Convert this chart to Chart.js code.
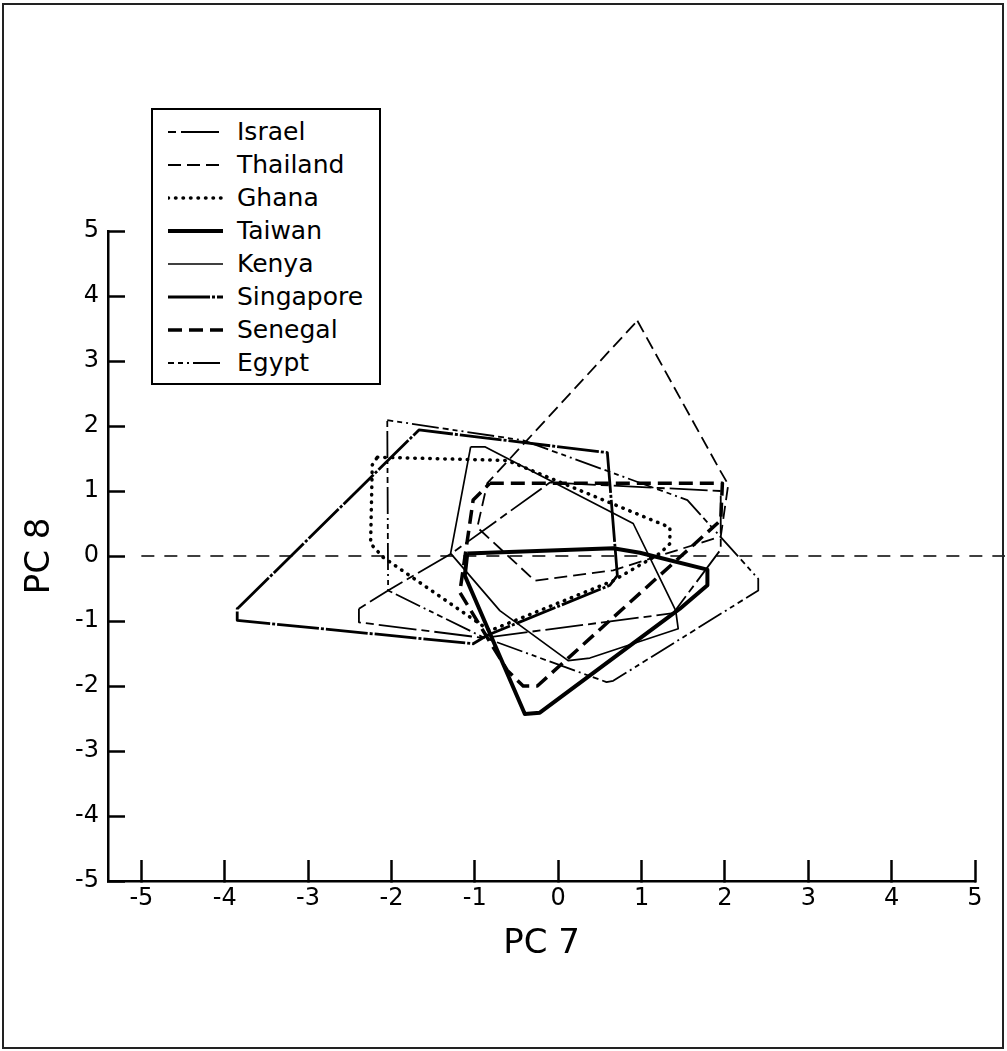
<!DOCTYPE html>
<html>
<head>
<meta charset="utf-8">
<script src="https://cdn.jsdelivr.net/npm/chart.js@4.4.1/dist/chart.umd.min.js"></script>
<style>
  html, body { margin: 0; padding: 0; background: #fff; }
  #wrap { position: relative; width: 1007px; height: 1051px; overflow: hidden; }
  #myChart { position: absolute; left: 0; top: 0; }
  #frame { position: absolute; left: 2px; top: 3px; right: 3px; bottom: 2px; border: 2px solid #222; pointer-events: none; }
  #legend { position: absolute; left: 151px; top: 108px; width: 226px; height: 268px; border: 2.5px solid #000; background: #fff;
            font-family: "DejaVu Sans", sans-serif; font-size: 25px; color: #000; padding-top: 5px; padding-bottom: 0; }
  .row { height: 33px; display: flex; align-items: center; }
  .row svg { margin-left: 15px; margin-right: 14px; flex: none; }
</style>
</head>
<body>
<div id="wrap">
  <canvas id="myChart" width="1007" height="1051"></canvas>
  <div id="legend"></div>
  <div id="frame"></div>
</div>
<script>
// countries in legend order
const countries = ["Israel", "Thailand", "Ghana", "Taiwan", "Kenya", "Singapore", "Senegal", "Egypt"];

// hull vertices (PC 7 = x, PC 8 = y)
const israelPC7 = [-2.39, -2.04, -1.29, -0.10, 1.95, 1.95, 1.38, -0.90, -2.39];
const israelPC8 = [-0.81, -0.53, 0.03, 1.13, 1.00, 0.10, -0.88, -1.26, -1.02];

const thailandPC7 = [0.95, 1.94, 2.04, 1.95, 0.66, -0.28, -0.97, -0.85];
const thailandPC8 = [3.62, 1.32, 1.10, 0.30, -0.22, -0.38, 0.44, 1.12];

const ghanaPC7 = [-2.17, -0.61, 1.34, 1.34, 1.22, 0.66, -0.82, -2.10, -2.25, -2.23];
const ghanaPC8 = [1.52, 1.47, 0.44, 0.19, 0.04, -0.38, -1.15, -0.02, 0.19, 1.40];

const taiwanPC7 = [-1.09, 0.66, 0.98, 1.79, 1.79, 1.46, -0.22, -0.40, -1.12];
const taiwanPC8 = [0.04, 0.12, 0.05, -0.21, -0.45, -0.81, -2.41, -2.43, -0.30];

const kenyaPC7 = [-1.05, -0.88, 0.90, 1.41, 1.44, 0.38, 0.12, -0.70, -1.29];
const kenyaPC8 = [1.68, 1.68, 0.50, -0.84, -1.12, -1.57, -1.61, -0.84, 0.04];

const singaporePC7 = [-3.83, -1.67, 0.59, 0.71, 0.62, -0.85, -1.02, -3.85, -3.85];
const singaporePC8 = [-0.79, 1.94, 1.59, -0.30, -0.45, -1.22, -1.35, -0.99, -0.81];

const senegalPC7 = [-0.82, 1.97, 1.95, -0.25, -0.42, -0.61, -1.18, -1.02];
const senegalPC8 = [1.12, 1.12, 0.55, -2.00, -2.00, -1.76, -0.56, 0.86];

const egyptPC7 = [-2.05, -0.42, 1.55, 2.40, 2.40, 0.66, 0.58, -0.90, -2.04];
const egyptPC8 = [2.09, 1.78, 0.86, -0.35, -0.53, -1.92, -1.94, -1.25, -0.53];

// dashed reference line at PC 8 = 0
const zeroLinePC7 = [-5.0, 5.36];
const zeroLinePC8 = [0, 0];

const tickValues = [-5, -4, -3, -2, -1, 0, 1, 2, 3, 4, 5];

const seriesX = [israelPC7, thailandPC7, ghanaPC7, taiwanPC7, kenyaPC7, singaporePC7, senegalPC7, egyptPC7];
const seriesY = [israelPC8, thailandPC8, ghanaPC8, taiwanPC8, kenyaPC8, singaporePC8, senegalPC8, egyptPC8];

// line look for each country
const lineStyles = [
    { width: 1.8, dash: [8, 5, 38, 5], cap: "butt" },
    { width: 1.8, dash: [13, 6], cap: "butt" },
    { width: 3.5, dash: [0.5, 7], cap: "round" },
    { width: 4, dash: [], cap: "butt" },
    { width: 1.7, dash: [], cap: "butt" },
    { width: 2.8, dash: [42, 2, 3, 2], cap: "butt" },
    { width: 3.5, dash: [14, 7], cap: "butt" },
    { width: 1.8, dash: [6, 4, 5, 4, 2, 4, 27, 4], cap: "butt" }
];

function toPoints(xs, ys) {
    const pts = xs.map((x, i) => ({ x: x, y: ys[i] }));
    return pts;
}

const datasets = countries.map((name, i) => {
    const pts = toPoints(seriesX[i], seriesY[i]);
    pts.push(pts[0]); // close the hull
    return {
        label: name,
        data: pts,
        showLine: true,
        borderColor: "#000",
        borderWidth: lineStyles[i].width,
        borderDash: lineStyles[i].dash,
        borderCapStyle: lineStyles[i].cap,
        borderJoinStyle: "round",
        pointRadius: 0,
        fill: false,
        tension: 0
    };
});

datasets.push({
    label: "zero",
    data: toPoints(zeroLinePC7, zeroLinePC8),
    showLine: true,
    borderColor: "#000",
    borderWidth: 1.6,
    borderDash: [13, 10],
    pointRadius: 0,
    clip: false
});

const onlyWhole = scale => {
    scale.ticks = tickValues.map(v => ({ value: v }));
};

const ctx = document.getElementById("myChart");
const myChart = new Chart(ctx, {
    type: "scatter",
    data: { datasets: datasets },
    options: {
        responsive: false,
        animation: false,
        events: [],
        layout: { padding: { left: 0, top: 231, right: 32, bottom: 80 } },
        plugins: { legend: { display: false }, tooltip: { enabled: false } },
        scales: {
            x: {
                type: "linear",
                min: -5.4,
                max: 5,
                afterBuildTicks: onlyWhole,
                afterFit: scale => { scale.height = 90; },
                border: { display: true, color: "#000", width: 2.5 },
                grid: { drawOnChartArea: false, drawTicks: true, tickLength: -21, tickWidth: 2.5, tickColor: "#000" },
                ticks: { color: "#000", padding: 24, font: { family: "DejaVu Sans", size: 24 }, maxRotation: 0 },
                title: { display: true, text: "PC 7", color: "#000", font: { family: "DejaVu Sans", size: 34 }, padding: { top: 0, bottom: 6 } }
            },
            y: {
                type: "linear",
                min: -5,
                max: 5,
                afterBuildTicks: onlyWhole,
                afterFit: scale => { scale.width = 108; },
                border: { display: true, color: "#000", width: 2.5 },
                grid: { drawOnChartArea: false, drawTicks: true, tickLength: -17, tickWidth: 2.5, tickColor: "#000" },
                ticks: { color: "#000", padding: 26, font: { family: "DejaVu Sans", size: 24 } },
                title: { display: true, text: "PC 8", color: "#000", font: { family: "DejaVu Sans", size: 34 }, padding: { top: 20, bottom: 0 } }
            }
        }
    }
});

// legend box, built from the same names and line looks
const legendBox = document.getElementById("legend");
countries.forEach((name, i) => {
    const st = lineStyles[i];
    const row = document.createElement("div");
    row.className = "row";
    row.innerHTML = `
    <svg width="55" height="10"><line x1="0" y1="5" x2="55" y2="5" stroke="#000"
      stroke-width="${st.width}" stroke-dasharray="${st.dash.join(" ")}" stroke-linecap="${st.cap}"/></svg>
    <span>${name}</span>`;
    legendBox.appendChild(row);
});
</script>
</body>
</html>
